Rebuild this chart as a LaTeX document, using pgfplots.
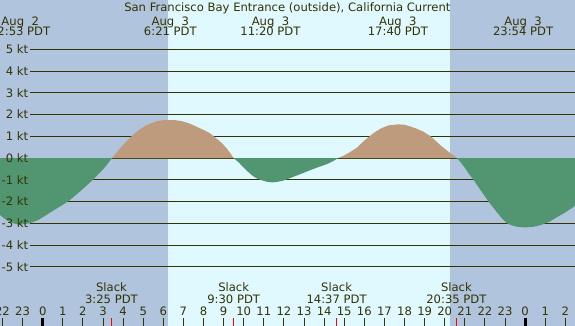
\documentclass[border=0pt]{standalone}
\usepackage{pgfplots}
\pgfplotsset{compat=1.18}
\usepackage{fontspec}
\setmainfont{DejaVu Sans}
\definecolor{night}{RGB}{176,196,222}
\definecolor{day}{RGB}{224,248,255}
\definecolor{flood}{RGB}{189,155,124}
\definecolor{ebb}{RGB}{82,150,113}
\definecolor{ink}{RGB}{51,51,0}
\newcommand\lf{\fontsize{11.6bp}{13bp}\selectfont}
\begin{document}
\begin{tikzpicture}[
  tl/.style={anchor=base, inner sep=0pt, text=ink, font=\lf},
  kl/.style={anchor=east, inner sep=0pt, text=ink, font=\lf}]
\begin{axis}[
  width=575bp, height=326bp, scale only axis,
  xmin=-2.124, xmax=26.48, ymin=-7.722, ymax=7.267,
  hide axis, clip=false,
]
% backgrounds (night / day)
\fill[night] (axis cs:-2.124,-7.722) rectangle (axis cs:26.48,7.267);
\fill[day] (axis cs:6.22,-7.722) rectangle (axis cs:20.26,7.267);
% horizontal knot lines
\pgfplotsinvokeforeach{-5,...,5}{
  \draw[ink, line width=1bp] (axis cs:-0.632,#1) -- (axis cs:26.48,#1);
}
% flood (positive) current
\addplot[draw=none, fill=flood] coordinates {
(-2.124,0) (3.45,0) (3.7,0.28) (3.95,0.55) (4.2,0.8) (4.48,1.06) (4.8,1.3)
(5.1,1.48) (5.4,1.6) (5.7,1.7) (6.0,1.74) (6.3,1.75) (6.6,1.74) (6.9,1.7)
(7.2,1.62) (7.47,1.52) (7.8,1.38) (8.1,1.25) (8.32,1.14) (8.6,0.93) (8.9,0.7)
(9.15,0.45) (9.35,0.2) (9.5,0) (14.7,0) (15.0,0.12) (15.3,0.28) (15.62,0.47)
(16.0,0.8) (16.45,1.14) (16.8,1.35) (17.2,1.5) (17.67,1.55) (18.0,1.53)
(18.3,1.45) (18.6,1.35) (18.94,1.21) (19.3,1.0) (19.77,0.6) (20.2,0.28)
(20.6,0) (26.48,0)
} \closedcycle;
% ebb (negative) current
\addplot[draw=none, fill=ebb] coordinates {
(-2.124,-2.62) (-1.8,-2.86) (-1.5,-2.99) (-1.15,-3.07) (-0.65,-3.0)
(-0.2,-2.84) (0.3,-2.55) (0.8,-2.26) (1.26,-2.0) (1.9,-1.5) (2.5,-1.0)
(2.8,-0.72) (3.1,-0.42) (3.45,0) (9.5,0) (9.75,-0.2) (9.96,-0.4) (10.2,-0.62)
(10.46,-0.83) (10.7,-0.96) (10.96,-1.04) (11.2,-1.1) (11.45,-1.12)
(11.7,-1.09) (11.95,-1.04) (12.2,-0.96) (12.45,-0.87) (12.9,-0.71)
(13.3,-0.56) (13.7,-0.42) (14.14,-0.28) (14.45,-0.14) (14.7,0) (20.6,0)
(20.8,-0.2) (21.0,-0.45) (21.2,-0.72) (21.43,-1.0) (21.8,-1.5) (22.18,-2.0)
(22.6,-2.5) (22.85,-2.78) (23.09,-3.0) (23.35,-3.1) (23.6,-3.16) (24.0,-3.19)
(24.4,-3.16) (24.75,-3.09) (25.2,-2.93) (25.58,-2.72) (26.0,-2.5) (26.48,-2.2)
} \closedcycle;
% knot labels on top of the fills
\pgfplotsinvokeforeach{-5,...,5}{
  \node[kl] at (axis cs:-0.716,#1) {#1 kt};
}
% title and max-current labels
\node[tl] at (axis cs:12.17,6.729) {San Francisco Bay Entrance (outside), California Current};
\node[tl] at (axis cs:-1.12,6.117) {Aug\ \ 2};
\node[tl] at (axis cs:-1.12,5.625) {22:53 PDT};
\node[tl] at (axis cs:6.35,6.117) {Aug\ \ 3};
\node[tl] at (axis cs:6.35,5.625) {6:21 PDT};
\node[tl] at (axis cs:11.33,6.117) {Aug\ \ 3};
\node[tl] at (axis cs:11.33,5.625) {11:20 PDT};
\node[tl] at (axis cs:17.67,6.117) {Aug\ \ 3};
\node[tl] at (axis cs:17.67,5.625) {17:40 PDT};
\node[tl] at (axis cs:23.9,6.117) {Aug\ \ 3};
\node[tl] at (axis cs:23.9,5.625) {23:54 PDT};
% slack labels
\node[tl] at (axis cs:3.42,-6.113) {Slack};
\node[tl] at (axis cs:3.42,-6.678) {3:25 PDT};
\node[tl] at (axis cs:9.5,-6.113) {Slack};
\node[tl] at (axis cs:9.5,-6.678) {9:30 PDT};
\node[tl] at (axis cs:14.62,-6.113) {Slack};
\node[tl] at (axis cs:14.62,-6.678) {14:37 PDT};
\node[tl] at (axis cs:20.58,-6.113) {Slack};
\node[tl] at (axis cs:20.58,-6.678) {20:35 PDT};
% hour ticks
\pgfplotsinvokeforeach{-2,...,26}{
  \draw[ink, line width=1bp] (axis cs:#1,-7.377) -- (axis cs:#1,-7.722);
}
\draw[black, line width=3bp] (axis cs:0,-7.377) -- (axis cs:0,-7.722);
\draw[black, line width=3bp] (axis cs:24,-7.377) -- (axis cs:24,-7.722);
\pgfplotsinvokeforeach{3.42,9.5,14.62,20.58}{
  \draw[red, line width=1bp] (axis cs:#1,-7.377) -- (axis cs:#1,-7.722);
}
% hour labels
\node[tl] at (axis cs:-2,-7.248) {22};
\node[tl] at (axis cs:-1,-7.248) {23};
\node[tl] at (axis cs:0,-7.248) {0};
\node[tl] at (axis cs:1,-7.248) {1};
\node[tl] at (axis cs:2,-7.248) {2};
\node[tl] at (axis cs:3,-7.248) {3};
\node[tl] at (axis cs:4,-7.248) {4};
\node[tl] at (axis cs:5,-7.248) {5};
\node[tl] at (axis cs:6,-7.248) {6};
\node[tl] at (axis cs:7,-7.248) {7};
\node[tl] at (axis cs:8,-7.248) {8};
\node[tl] at (axis cs:9,-7.248) {9};
\node[tl] at (axis cs:10,-7.248) {10};
\node[tl] at (axis cs:11,-7.248) {11};
\node[tl] at (axis cs:12,-7.248) {12};
\node[tl] at (axis cs:13,-7.248) {13};
\node[tl] at (axis cs:14,-7.248) {14};
\node[tl] at (axis cs:15,-7.248) {15};
\node[tl] at (axis cs:16,-7.248) {16};
\node[tl] at (axis cs:17,-7.248) {17};
\node[tl] at (axis cs:18,-7.248) {18};
\node[tl] at (axis cs:19,-7.248) {19};
\node[tl] at (axis cs:20,-7.248) {20};
\node[tl] at (axis cs:21,-7.248) {21};
\node[tl] at (axis cs:22,-7.248) {22};
\node[tl] at (axis cs:23,-7.248) {23};
\node[tl] at (axis cs:24,-7.248) {0};
\node[tl] at (axis cs:25,-7.248) {1};
\node[tl] at (axis cs:26,-7.248) {2};
\coordinate (SW) at (axis cs:-2.124,-7.722);
\coordinate (NE) at (axis cs:26.48,7.267);
\end{axis}
\pgfresetboundingbox
\useasboundingbox (SW) rectangle (NE);
\end{tikzpicture}
\end{document}
